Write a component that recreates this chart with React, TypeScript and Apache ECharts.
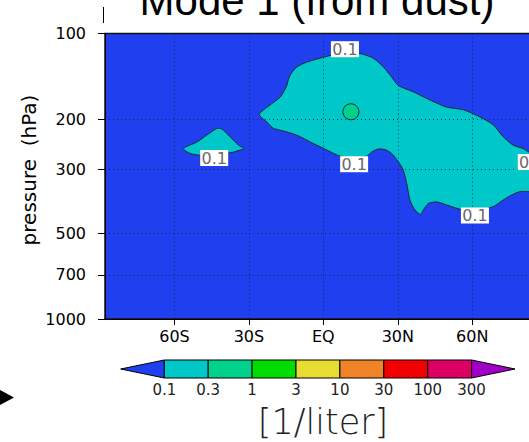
import React, { useEffect, useRef } from "react";
import * as echarts from "echarts";

// ---------- data ----------
const latTicks = [-60, -30, 0, 30, 60];
const latTickLabels = ["60S", "30S", "EQ", "30N", "60N"];
const pressureTicks = [100, 200, 300, 500, 700, 1000];

// 0.1 contour, main (tropical / northern) region: [lat, hPa]
const mainBlobLat = [-25.8, -21.5, -17.4, -15.0, -13.4, -10.7, -6.7, -1.3, 3.4, 8.7, 14.8, 20.1, 24.2, 27.5, 30.2, 36.2, 43.0, 49.7, 56.4, 63.1, 68.5, 72.5, 76.5, 80.5, 82.8, 88, 88, 82.8, 79.2, 75.9, 72.5, 68.5, 63.1, 56.4, 49.7, 45.7, 42.3, 40.3, 39.2, 36.9, 34.9, 33.6, 32.2, 30.2, 27.5, 24.8, 22.1, 19.5, 17.5, 12.1, 6.7, 1.4, -4.0, -10.7, -17.4, -20.1, -22.8];
const mainBlobP = [192, 178, 167, 154, 140, 131, 126, 122, 119, 116, 117.5, 122, 131, 142, 152, 160, 171, 181, 185, 196, 209, 230, 246, 253, 260, 265, 355, 358, 358, 368, 383, 404, 415, 415, 399, 389, 394, 415, 430, 415, 383, 335, 301, 281, 263, 255, 254, 260, 269, 274, 269, 256, 243, 227, 218, 215, 204];

// 0.1 contour, small southern region
const smallBlobLat = [-56.4, -51.0, -47.0, -42.9, -40.9, -37.6, -34.2, -32.2, -36.2, -38.9, -43.6, -49.7, -53.7];
const smallBlobP = [253, 240, 227, 215, 216, 230, 246, 253, 260, 263, 267, 267, 263];

// 0.3 contour cell
const cellLat = [11.1];
const cellP = [188];

// contour line labels
const labelLat = [8.7, -44.0, 12.4, 61.1, 84.0];
const labelP = [113.5, 273, 287, 434, 282];
const labelText = "0.1";

// colour bar
const levelLabels = ["0.1", "0.3", "1", "3", "10", "30", "100", "300"];
const lowColor = "#2040f0";
const levelColors = ["#00c8c8", "#00d28c", "#00dc00", "#e6dc32", "#f08228", "#f00000", "#dc0064"];
const highColor = "#a000c8";

const FONT = "DejaVu Sans";

export default function App() {
  const ref = useRef<HTMLDivElement>(null);
  useEffect(() => {
    if (!ref.current) return;
    const chart = echarts.init(ref.current, null, { renderer: "svg" });

    const polygons = [
      { lat: mainBlobLat, p: mainBlobP, color: levelColors[0] },
      { lat: smallBlobLat, p: smallBlobP, color: levelColors[0] },
    ];

    // colour bar layout
    const cbX0 = 164.3;
    const cbW = 43.9;
    const cbY = 360;
    const cbH = 18;
    const cbElems: any[] = [];
    cbElems.push({
      type: "polygon",
      shape: { points: [[cbX0, cbY], [cbX0, cbY + cbH], [120.7, cbY + cbH / 2]] },
      style: { fill: lowColor, stroke: "#000", lineWidth: 1 },
    });
    levelColors.forEach((c, i) => {
      cbElems.push({
        type: "rect",
        shape: { x: cbX0 + i * cbW, y: cbY, width: cbW, height: cbH },
        style: { fill: c, stroke: "#000", lineWidth: 1 },
      });
    });
    const cbEnd = cbX0 + levelColors.length * cbW;
    cbElems.push({
      type: "polygon",
      shape: { points: [[cbEnd, cbY], [cbEnd, cbY + cbH], [515, cbY + cbH / 2]] },
      style: { fill: highColor, stroke: "#000", lineWidth: 1 },
    });
    levelLabels.forEach((t, i) => {
      cbElems.push({
        type: "text",
        x: cbX0 + i * cbW,
        y: 390,
        style: { text: t, fill: "#222", fontSize: 15, fontFamily: FONT, align: "center", verticalAlign: "middle", textAlign: "center", textVerticalAlign: "middle" },
      });
    });

    const option: any = {
      animation: false,
      grid: {
        left: 105,
        top: 33.5,
        width: 436.7,
        bottom: 123,
        outerBoundsMode: "none",
        containLabel: false,
        show: true,
        backgroundColor: lowColor,
        borderColor: "#111",
        borderWidth: 1.5,
      },
      xAxis: {
        type: "value",
        min: -88,
        max: 88,
        axisLine: { show: true, onZero: false, lineStyle: { color: "#000", width: 1 } },
        axisTick: { show: true, length: 6, customValues: latTicks, lineStyle: { color: "#000" } },
        axisLabel: {
          customValues: latTicks,
          formatter: (v: number) => latTickLabels[latTicks.indexOf(v)] ?? "",
          fontSize: 16,
          fontFamily: FONT,
          color: "#000",
          margin: 9,
        },
        splitLine: { show: false },
      },
      yAxis: {
        type: "log",
        logBase: 10,
        min: 100,
        max: 1000,
        inverse: true,
        axisLine: { show: true, onZero: false, lineStyle: { color: "#000", width: 1 } },
        axisTick: { show: true, length: 7, customValues: pressureTicks, lineStyle: { color: "#000" } },
        axisLabel: {
          customValues: pressureTicks,
          formatter: (v: number) => String(v),
          fontSize: 16,
          fontFamily: FONT,
          color: "#000",
          margin: 19,
        },
        splitLine: { show: false },
        minorTick: { show: false },
      },
      series: [
        {
          type: "custom",
          clip: true,
          z: 2,
          data: polygons.map((_, i) => [i]),
          renderItem: (params: any, api: any) => {
            const poly = polygons[api.value(0)];
            const pts = poly.lat.map((la, k) => api.coord([la, poly.p[k]]));
            return {
              type: "polygon",
              shape: { points: pts, smooth: 0.25 },
              style: { fill: poly.color, stroke: "#1c2a2a", lineWidth: 1 },
            };
          },
        },
        {
          type: "scatter",
          z: 3,
          symbol: "circle",
          symbolSize: 16,
          itemStyle: { color: levelColors[1], borderColor: "#1c2a2a", borderWidth: 1, opacity: 1 },
          data: cellLat.map((la, i) => [la, cellP[i]]),
        },
        {
          type: "scatter",
          z: 4,
          data: [],
          markLine: {
            silent: true,
            symbol: "none",
            label: { show: false },
            lineStyle: { color: "rgba(20,20,60,0.75)", width: 1, type: [1, 3] },
            data: [
              ...latTicks.map((v) => ({ xAxis: v })),
              ...pressureTicks.filter((p) => p !== 100 && p !== 1000).map((p) => ({ yAxis: p })),
            ],
          },
        },
        {
          type: "scatter",
          z: 5,
          clip: false,
          symbol: "rect",
          symbolSize: [28, 16],
          itemStyle: { color: "#fff", opacity: 1 },
          label: {
            show: true,
            position: "inside",
            formatter: () => labelText,
            color: "#6a6a6a",
            fontSize: 16,
            fontFamily: FONT,
          },
          data: labelLat.map((la, i) => [la, labelP[i]]),
        },
      ],
      graphic: [
        {
          type: "text",
          x: 317,
          y: 0,
          style: { text: "Mode 1 (from dust)", fill: "#000", fontSize: 42, fontFamily: "Liberation Sans", align: "center", verticalAlign: "middle", textAlign: "center", textVerticalAlign: "middle" },
        },
        {
          type: "line",
          shape: { x1: 103.5, y1: 7, x2: 103.5, y2: 23 },
          style: { stroke: "#000", lineWidth: 1 },
        },
        {
          type: "text",
          x: 29,
          y: 170,
          rotation: Math.PI / 2,
          style: { text: "pressure  (hPa)", fill: "#000", fontSize: 20, fontFamily: FONT, align: "center", verticalAlign: "middle", textAlign: "center", textVerticalAlign: "middle" },
        },
        {
          type: "polygon",
          shape: { points: [[0, 390], [14, 397.5], [0, 405]] },
          style: { fill: "#000" },
        },
        { type: "group", children: cbElems },
        {
          type: "text",
          x: 323,
          y: 422,
          style: { text: "[1/liter]", fill: "#222", fontSize: 35, fontFamily: FONT, fontWeight: 200, align: "center", verticalAlign: "middle", textAlign: "center", textVerticalAlign: "middle" },
        },
      ],
    };
    chart.setOption(option);
    return () => chart.dispose();
  }, []);
  return <div ref={ref} style={{ position: "absolute", left: 0, top: 0, width: 529, height: 442 }} />;
}
